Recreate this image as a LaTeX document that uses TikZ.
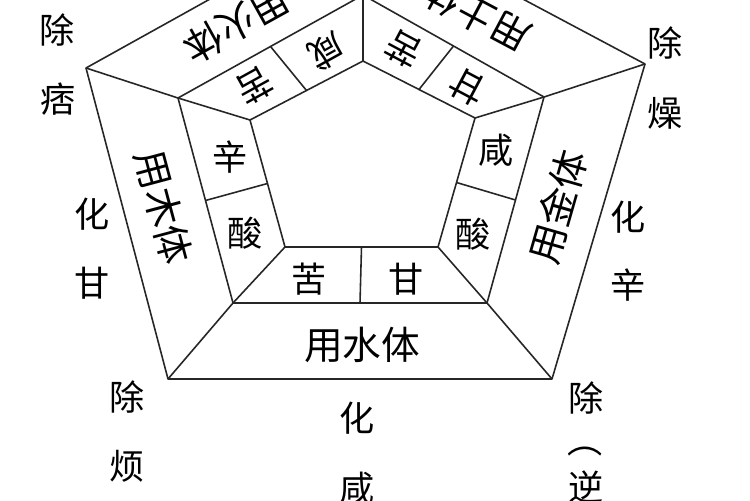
\documentclass[tikz,border=0pt]{standalone}
\usepackage{fontspec}
\setmainfont{Noto Sans CJK SC}
\usetikzlibrary{calc}
\begin{document}
\begin{tikzpicture}[x=0.02cm,y=-0.02cm,
  edge/.style={line width=0.9pt, draw=black!85, line join=round},
  band/.style={font=\fontsize{22}{22}\selectfont, inner sep=0pt},
  cell/.style={font=\fontsize{20}{20}\selectfont, inner sep=0pt},
  outlbl/.style={font=\fontsize{20}{20}\selectfont, inner sep=0pt}]
\useasboundingbox (0,0) rectangle (750,500);
\fill[white] (0,0) rectangle (750,500);
\clip (0,0) rectangle (750,500);
% outer pentagon
\coordinate (OT) at (363,-86);
\coordinate (OR) at (645,64);
\coordinate (OBR) at (552,379);
\coordinate (OBL) at (168,379);
\coordinate (OL) at (86,68);
% middle pentagon
\coordinate (MT) at (363,-5);
\coordinate (MR) at (544,97);
\coordinate (MBR) at (487,303);
\coordinate (MBL) at (233,303);
\coordinate (ML) at (178,98);
% inner pentagon
\coordinate (IT) at (363,61);
\coordinate (IR) at (475,118);
\coordinate (IBR) at (438,247);
\coordinate (IBL) at (285,247);
\coordinate (IL) at (250,120);

\draw[edge] (OT) -- (OR) -- (OBR) -- (OBL) -- (OL) -- cycle;
\draw[edge] (MT) -- (MR) -- (MBR) -- (MBL) -- (ML) -- cycle;
\draw[edge] (IT) -- (IR) -- (IBR) -- (IBL) -- (IL) -- cycle;
\foreach \v in {T,R,BR,BL,L} {\draw[edge] (O\v) -- (M\v) -- (I\v);}
% dividers in the inner ring
\draw[edge] ($(MBL)!0.5!(MBR)$) -- ($(IBL)!0.5!(IBR)$);
\draw[edge] ($(ML)!0.5!(MBL)$) -- ($(IL)!0.5!(IBL)$);
\draw[edge] ($(MR)!0.5!(MBR)$) -- ($(IR)!0.5!(IBR)$);
\draw[edge] ($(ML)!0.5!(MT)$) -- ($(IL)!0.5!(IT)$);
\draw[edge] ($(MR)!0.5!(MT)$) -- ($(IR)!0.5!(IT)$);

% outer band labels
\node[band] (water) at (362,345) {用水体};
\node[band, rotate=-75] (wood) at (164,207) {用木体};
\node[band, rotate=74] (metal) at (558,207) {用金体};
\node[band, rotate=152] (earth) at (476,14) {用土体};
\node[band, rotate=209] (fire) at (237,24) {用火体};

% inner ring cells
\node[cell] (bk) at (309,279) {苦};
\node[cell] (bg) at (406,279) {甘};
\node[cell] (lx) at (230,157) {辛};
\node[cell] (ls) at (245,233) {酸};
\node[cell] (rx) at (496,150) {咸};
\node[cell] (rs) at (473,234) {酸};
\node[cell, rotate=209] (ulk) at (255,86) {苦};
\node[cell, rotate=209] (ulx) at (327,52) {咸};
\node[cell, rotate=152] (urk) at (404,49) {苦};
\node[cell, rotate=152] (urg) at (468,87) {甘};

% outside labels
\node[outlbl] (a1) at (57,30) {除};
\node[outlbl] (a2) at (58,99) {痞};
\node[outlbl] (b1) at (92,214) {化};
\node[outlbl] (b2) at (92,283) {甘};
\node[outlbl] (c1) at (127,397) {除};
\node[outlbl] (c2) at (127,466) {烦};
\node[outlbl] (d1) at (665,43) {除};
\node[outlbl] (d2) at (665,113) {燥};
\node[outlbl] (e1) at (628,217) {化};
\node[outlbl] (e2) at (628,285) {辛};
\node[outlbl] (f1) at (586,398) {除};
\node[outlbl] (f2) at (585,452) {︵};
\node[outlbl] (f3) at (586,487) {逆};
\node[outlbl] (g1) at (357,418) {化};
\node[outlbl] (g2) at (357,488) {咸};
\end{tikzpicture}
\end{document}
